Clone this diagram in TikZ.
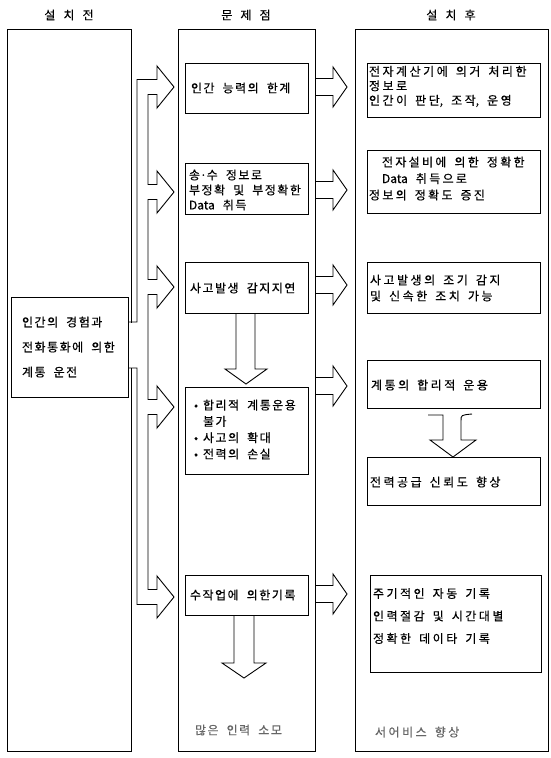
\documentclass[tikz,border=0pt]{standalone}
\usepackage{fontspec}
\newfontfamily\kr[WordSpace=3,FakeBold=0.4]{Noto Sans CJK KR}
% extra spacing between consecutive Hangul syllables
\newdimen\hgsp
\newcount\hgc
\hgc="AC00
\loop \XeTeXcharclass\hgc=7 \ifnum\hgc<"D7A3 \advance\hgc by 1 \repeat
\XeTeXinterchartoks 7 7 = {\hskip\hgsp\relax}
\XeTeXinterchartokenstate=1
\begin{document}
\begin{tikzpicture}[x=1pt,y=-1pt,
  every node/.style={inner sep=0pt, outer sep=0pt},
  frm/.style={draw, line width=0.9pt, rectangle},
  blk/.style={draw, line width=0.9pt, line join=miter},
  txt/.style={anchor=west, align=left, font={\kr\fontsize{12}{15}\selectfont\hgsp=1.5pt}},
  txtr/.style={anchor=west, align=left, font={\kr\fontsize{12}{15}\selectfont\hgsp=2.5pt}},
  faint/.style={text=black!60},
  hdr/.style={font={\kr\fontsize{12}{14}\selectfont\hgsp=0pt}}]
\useasboundingbox (0,0) rectangle (550,758);

% headers
\node[hdr] (h1) at (69,15) {설 치 전};
\node[hdr] (h2) at (246,15) {문 제 점};
\node[hdr] (h3) at (451,15) {설 치 후};

% columns
\node[frm, minimum width=124pt, minimum height=722pt] (colL) at (69,390) {};
\node[frm, minimum width=137pt, minimum height=722pt] (colM) at (246.5,390) {};
\node[frm, minimum width=193pt, minimum height=722pt] (colR) at (451.5,390) {};

% left inner box
\node[frm, minimum width=117pt, minimum height=100pt] (L1) at (69.5,347) {};
\node[txt, font={\kr\fontsize{12}{25}\selectfont\hgsp=1.5pt}] (tL1) at (22,347) {인간의 경험과\\전화통화에 의한\\계통 운전};

% middle boxes
\node[frm, minimum width=123pt, minimum height=50pt] (M1) at (246.5,88) {};
\node[frm, minimum width=123pt, minimum height=51pt] (M2) at (246.5,188.5) {};
\node[frm, minimum width=123pt, minimum height=51pt] (M3) at (246.5,287.5) {};
\node[frm, minimum width=123pt, minimum height=87pt] (M4) at (246.5,430.5) {};
\node[frm, minimum width=123pt, minimum height=40pt] (M5) at (246.5,595) {};

\node[txt] (tM1) at (191,88) {인간 능력의 한계};
\node[txt] (tM2) at (189,190) {송·수 정보로\\부정확 및 부정확한\\Data 취득};
\node[txt] (tM3) at (190,288) {사고발생 감지지연};
\node[txt, font={\kr\fontsize{12}{16.3}\selectfont\hgsp=1.5pt}] (tM4) at (194,429.5)
  {\makebox[9pt][l]{•}합리적 계통운용\\\makebox[9pt][l]{}불가\\\makebox[9pt][l]{•}사고의 확대\\\makebox[9pt][l]{•}전력의 손실};
\node[txt] (tM5) at (190,595) {수작업에 의한기록};
\node[txt, faint] (tM6) at (195,730) {많은 인력 소모};

% right boxes
\node[frm, minimum width=173pt, minimum height=54pt] (R1) at (453.5,90) {};
\node[frm, minimum width=173pt, minimum height=63pt] (R2) at (453.5,181.5) {};
\node[frm, minimum width=173pt, minimum height=51pt] (R3) at (453.5,287.5) {};
\node[frm, minimum width=173pt, minimum height=48pt] (R4) at (453.5,384) {};
\node[frm, minimum width=173pt, minimum height=48pt] (R5) at (453.5,481) {};
\node[frm, minimum width=171pt, minimum height=97pt] (R6) at (455.5,623.5) {};

\node[txtr, font={\kr\fontsize{12}{14.5}\selectfont\hgsp=2.5pt}] (tR1) at (369,86.5) {전자계산기에 의거 처리한\\정보로\\인간이 판단, 조작, 운영};
\node[txtr, font={\kr\fontsize{12}{16.5}\selectfont\hgsp=2.3pt}] (tR2) at (369,178.5) {\hspace{13pt}전자설비에 의한 정확한\\\hspace{13pt}Data 취득으로\\정보의 정확도 증진};
\node[txtr, font={\kr\fontsize{12}{16}\selectfont\hgsp=2.5pt}] (tR3) at (370,288) {사고발생의 조기 감지\\및 신속한 조치 가능};
\node[txtr] (tR4) at (371,385) {계통의 합리적 운용};
\node[txtr] (tR5) at (370,482) {전력공급 신뢰도 향상};
\node[txtr, font={\kr\fontsize{12}{22.5}\selectfont\hgsp=2.5pt}] (tR6) at (373,616) {주기적인 자동 기록\\인력절감 및 시간대별\\정확한 데이타 기록};
\node[txtr, faint] (tR7) at (375,732) {서어비스 향상};

% opening of the left column where the trunk leaves the box
\fill[white] (129.6,322.5) rectangle (136.4,367.5);

% branching trunk arrow (left -> middle)
\draw[blk] (128,322) -- (137,322) -- (137,79.5) -- (157,79.5) -- (157,66) -- (174,87) -- (157,108) -- (157,94.5) -- (148,94.5)
 -- (148,184.5) -- (157,184.5) -- (157,171) -- (174,192) -- (157,213) -- (157,199.5) -- (148,199.5)
 -- (148,279.5) -- (157,279.5) -- (157,266) -- (174,287) -- (157,308) -- (157,294.5) -- (148,294.5)
 -- (148,399.5) -- (157,399.5) -- (157,386) -- (174,407) -- (157,428) -- (157,414.5) -- (148,414.5)
 -- (148,589.5) -- (157,589.5) -- (157,576) -- (174,597) -- (157,618) -- (157,604.5) -- (137,604.5)
 -- (137,368) -- (128,368);

% middle -> right arrows
\foreach \yy in {87,190,285,386,594} {
  \draw[blk] (315,\yy-8.5) -- (333,\yy-8.5) -- (333,\yy-20) -- (347,\yy) -- (333,\yy+20) -- (333,\yy+8.5) -- (315,\yy+8.5);
}

% down arrows in middle column
\draw[blk] (M3.south -| 236,0) -- (236,369) -- (225,369) -- (246,384) -- (267,369) -- (255,369) -- (M3.south -| 255,0);
\draw[blk] (M5.south -| 234,0) -- (234,663) -- (222,663) -- (244,678) -- (266,663) -- (254,663) -- (M5.south -| 254,0);

% funnel arrow in right column
\draw[blk] (428,415) -- (443,415) -- (443,440) -- (430,440) -- (453,457) -- (476,440) -- (461,440) -- (461,421) .. controls (461,415) .. (472,414);
\end{tikzpicture}
\end{document}
